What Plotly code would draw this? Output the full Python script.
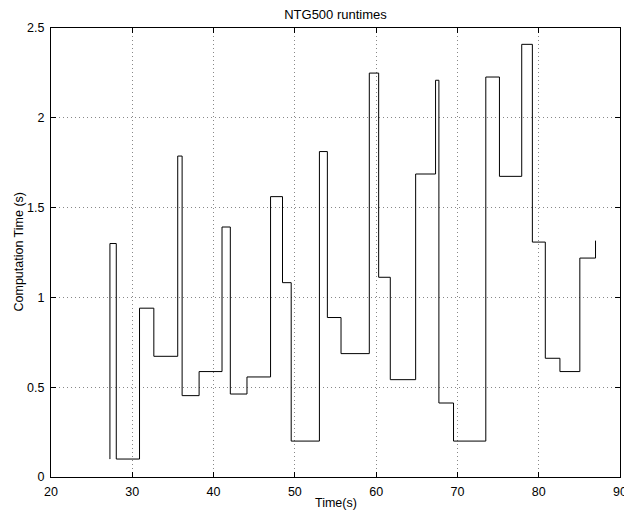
import plotly.graph_objects as go

# Step positions (Time, s) and computation times (s)
time_s = [27.24, 27.25, 28.03, 30.89, 32.65, 35.59, 36.13, 38.22, 41.04, 42.06,
          44.11, 47.01, 48.48, 49.55, 53.02, 54.00, 55.68, 59.16, 60.31, 61.74,
          64.86, 67.31, 67.72, 69.52, 73.49, 75.17, 77.91, 79.22, 80.81, 82.61,
          85.06, 86.99]
comp_time = [0.10, 1.30, 0.10, 0.94, 0.672, 1.787, 0.453, 0.587, 1.392, 0.462,
             0.557, 1.561, 1.082, 0.200, 1.812, 0.888, 0.687, 2.249, 1.112, 0.542,
             1.687, 2.209, 0.412, 0.200, 2.227, 1.674, 2.409, 1.308, 0.661, 0.587,
             1.219, 1.316]

x_ticks = [20, 30, 40, 50, 60, 70, 80, 90]
y_ticks = [0, 0.5, 1, 1.5, 2, 2.5]
y_tick_text = ["0", "0.5", "1", "1.5", "2", "2.5"]

font_family = "Liberation Sans, Arial, sans-serif"
FS = 12.5

W, H = 624, 513
L, R, T, B = 51, 4, 28, 36

fig = go.Figure()
fig.add_trace(go.Scatter(
    x=time_s, y=comp_time, mode="lines",
    line=dict(shape="hv", color="black", width=1),
    showlegend=False, hoverinfo="skip",
))

axis_common = dict(
    showline=True, linecolor="black", linewidth=1, mirror="allticks",
    ticks="inside", ticklen=5, tickcolor="black", tickwidth=1,
    showgrid=True, gridcolor="#888888", gridwidth=1, griddash="1px,3px",
    zeroline=False, automargin=False, ticklabeloverflow="allow",
    tickfont=dict(family=font_family, size=FS, color="black"),
)

fig.update_xaxes(range=[20, 90], tickvals=x_ticks, ticktext=[str(v) for v in x_ticks],
                 ticklabelstandoff=3, **axis_common)
fig.update_yaxes(range=[0, 2.5], tickvals=y_ticks, ticktext=y_tick_text,
                 ticklabelstandoff=3, **axis_common)

fig.update_layout(
    width=W, height=H,
    margin=dict(l=L, r=R, t=T, b=B),
    paper_bgcolor="white", plot_bgcolor="white",
    font=dict(family=font_family, size=FS, color="black"),
    title=dict(text="NTG500 runtimes", x=(L + W - R) / 2 / W, xanchor="center",
               y=1 - 14 / H, yanchor="middle", yref="container",
               font=dict(family=font_family, size=13, color="black")),
    annotations=[
        dict(text="Time(s)", xref="paper", yref="paper", x=0.5, y=-(503 - (H - B)) / (H - T - B),
             xanchor="center", yanchor="middle", showarrow=False,
             font=dict(family=font_family, size=FS, color="black")),
        dict(text="Computation Time (s)", xref="paper", yref="paper",
             x=-(L - 18) / (W - L - R), y=0.5, textangle=-90,
             xanchor="center", yanchor="middle", showarrow=False,
             font=dict(family=font_family, size=FS, color="black")),
    ],
)

fig.write_html(
    "out.html",
    config={"displayModeBar": False},
    post_script="document.body.style.margin='0';document.body.style.overflow='hidden';",
)
